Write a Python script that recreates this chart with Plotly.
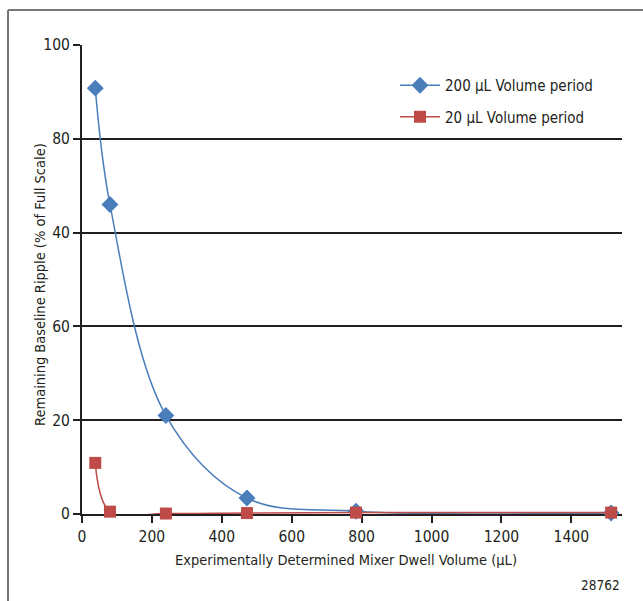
import plotly.graph_objects as go

# Data
dwell_volume_ul = [38, 80, 240, 472, 784, 1514]
ripple_200ul = [90.8, 66.0, 21.0, 3.4, 0.6, 0.2]
ripple_20ul = [10.9, 0.5, 0.1, 0.2, 0.3, 0.3]
y_tickvals = [0, 20, 40, 60, 80, 100]
y_ticktext = ["0", "20", "60", "40", "80", "100"]
x_tickvals = [0, 200, 400, 600, 800, 1000, 1200, 1400]

FONT = "DejaVu Sans Condensed, sans-serif"
BLUE = "#4a7ebb"
RED = "#be4b48"
INK = "#231f20"

W, H = 643, 601
L, R, T, B = 82, 21, 45, 87
pw, ph = W - L - R, H - T - B

def px(x):
    return (x - L) / pw

def py(y):
    return (H - B - y) / ph

fig = go.Figure()
fig.add_trace(go.Scatter(
    x=dwell_volume_ul, y=ripple_200ul, name="200 µL Volume period",
    legendgroup="a",
    mode="lines+markers", line=dict(color=BLUE, width=1.5, shape="spline"),
    marker=dict(symbol="diamond", size=13, color=BLUE), cliponaxis=False))
fig.add_trace(go.Scatter(
    x=dwell_volume_ul, y=ripple_20ul, name="20 µL Volume period",
    legendgroup="b",
    mode="lines+markers", line=dict(color=RED, width=1.5, shape="spline"),
    marker=dict(symbol="square", size=12, color=RED), cliponaxis=False))

fig.update_layout(
    width=W, height=H, margin=dict(l=L, r=R, t=T, b=B),
    paper_bgcolor="white", plot_bgcolor="white",
    font=dict(family=FONT, size=15, color=INK),
    showlegend=True,
    legend=dict(x=px(395), y=py(69), xanchor="left", yanchor="top",
                bgcolor="rgba(0,0,0,0)", font=dict(size=15), tracegroupgap=9,
                traceorder="grouped", itemwidth=40),
    xaxis=dict(range=[0, 1545], tickvals=x_tickvals, showgrid=False,
               showline=True, linecolor=INK, linewidth=2, layer="below traces",
               ticks="outside", ticklen=7, tickwidth=2, tickcolor=INK,
               tickfont=dict(size=15.5), zeroline=False),
    yaxis=dict(range=[0, 100], tickvals=y_tickvals, ticktext=y_ticktext,
               showgrid=True, gridcolor=INK, gridwidth=2, layer="below traces",
               showline=True, linecolor=INK, linewidth=2,
               ticks="outside", ticklen=7, tickwidth=2, tickcolor=INK,
               tickfont=dict(size=15.5), zeroline=False),
    shapes=[
        dict(type="line", xref="paper", yref="paper", x0=px(8), x1=px(643),
             y0=py(10), y1=py(10), line=dict(color="#777777", width=2)),
        dict(type="line", xref="paper", yref="paper", x0=px(8), x1=px(8),
             y0=py(10), y1=py(601), line=dict(color="#777777", width=2)),
    ],
    annotations=[
        dict(text="Experimentally Determined Mixer Dwell Volume (µL)",
             xref="paper", yref="paper", x=px(346), y=py(560),
             xanchor="center", yanchor="middle", showarrow=False,
             font=dict(size=14.5)),
        dict(text="Remaining Baseline Ripple (% of Full Scale)",
             xref="paper", yref="paper", x=px(40), y=py(285), textangle=-90,
             xanchor="center", yanchor="middle", showarrow=False,
             font=dict(size=14.5)),
        dict(text="28762", xref="paper", yref="paper", x=px(622), y=py(585),
             xanchor="right", yanchor="middle", showarrow=False,
             font=dict(size=13.5)),
    ],
)

fig.write_html("out.html")
